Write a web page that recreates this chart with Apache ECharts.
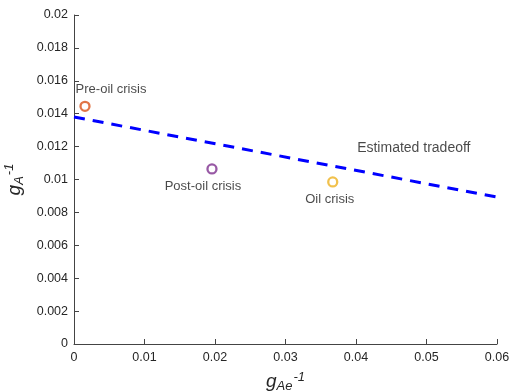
<!DOCTYPE html>
<html>
<head>
<meta charset="utf-8">
<script src="https://cdn.jsdelivr.net/npm/echarts@6/dist/echarts.min.js"></script>
<style>
  html, body { margin: 0; padding: 0; background: #fff; }
  #chart { width: 511px; height: 392px; }
</style>
</head>
<body>
<div id="chart"></div>
<script>
// points: [gAe^-1, gA^-1]
const preOil = [[0.00156, 0.01445]];
const postOil = [[0.01957, 0.01064]];
const oilCrisis = [[0.0367, 0.00985]];
// estimated tradeoff line end points
const tradeoff = [[0, 0.0138], [0.06, 0.00893]];
const tradeoffLabelAt = [[0.0482, 0.0119]];

const xTicks = { min: 0, max: 0.06, interval: 0.01 };
const yTicks = { min: 0, max: 0.02, interval: 0.002 };

const chart = echarts.init(document.getElementById('chart'), null, { renderer: 'canvas' });

const axisText = '#262626';
const font = 'Helvetica, Arial, "Liberation Sans", sans-serif';

const nameRich = {
  g: { fontSize: 19, fontStyle: 'italic', color: axisText, fontFamily: font },
  sub: { fontSize: 13, fontStyle: 'italic', color: axisText, fontFamily: font, padding: [10, 0, 0, 0] },
  sup: { fontSize: 13, fontStyle: 'italic', color: axisText, fontFamily: font, padding: [0, 0, 9, 1] }
};

function ring(color, data, name, pos, offset) {
  return {
    name: name,
    type: 'scatter',
    data: data,
    symbol: 'circle',
    symbolSize: 9,
    itemStyle: { color: '#fff', borderColor: color, borderWidth: 2.3 },
    label: {
      show: true,
      formatter: name,
      position: pos,
      distance: 5,
      offset: offset,
      color: '#1a1a1a',
      fontSize: 13,
      fontFamily: font
    },
    z: 5
  };
}

chart.setOption({
  animation: false,
  grid: { left: 74, right: 14, top: 15, bottom: 48, outerBoundsMode: 'none', containLabel: false },
  xAxis: {
    type: 'value',
    min: xTicks.min, max: xTicks.max, interval: xTicks.interval,
    name: '{g|g}{sub|Ae}{sup|-1}',
    nameLocation: 'middle',
    nameGap: 26,
    nameTextStyle: { rich: nameRich },
    axisLine: { lineStyle: { color: '#444', width: 1 } },
    axisTick: { inside: true, length: 5, lineStyle: { color: '#444' } },
    axisLabel: { color: axisText, fontSize: 12.5, fontFamily: font, margin: 7 },
    splitLine: { show: false }
  },
  yAxis: {
    type: 'value',
    min: yTicks.min, max: yTicks.max, interval: yTicks.interval,
    name: '{g|g}{sub|A}{sup|-1}',
    nameLocation: 'middle',
    nameGap: 42,
    nameRotate: 90,
    nameTextStyle: { rich: nameRich },
    axisLine: { show: true, lineStyle: { color: '#444', width: 1 } },
    axisTick: { show: true, inside: true, length: 5, lineStyle: { color: '#444' } },
    axisLabel: { color: axisText, fontSize: 12.5, fontFamily: font, margin: 6 },
    splitLine: { show: false }
  },
  series: [
    {
      name: 'Estimated tradeoff',
      type: 'line',
      data: tradeoff,
      symbol: 'none',
      lineStyle: { color: '#0000ff', width: 3, type: [11, 8] },
      z: 2
    },
    {
      type: 'scatter',
      data: tradeoffLabelAt,
      symbolSize: 0,
      silent: true,
      label: {
        show: true, position: 'inside', formatter: 'Estimated tradeoff',
        color: '#1a1a1a', fontSize: 14, fontFamily: font
      }
    },
    ring('#D95319', preOil, 'Pre-oil crisis', 'top', [26, 0]),
    ring('#7E2F8E', postOil, 'Post-oil crisis', 'bottom', [-9, 0]),
    ring('#EDB120', oilCrisis, 'Oil crisis', 'bottom', [-3, 0])
  ]
});
</script>
</body>
</html>
